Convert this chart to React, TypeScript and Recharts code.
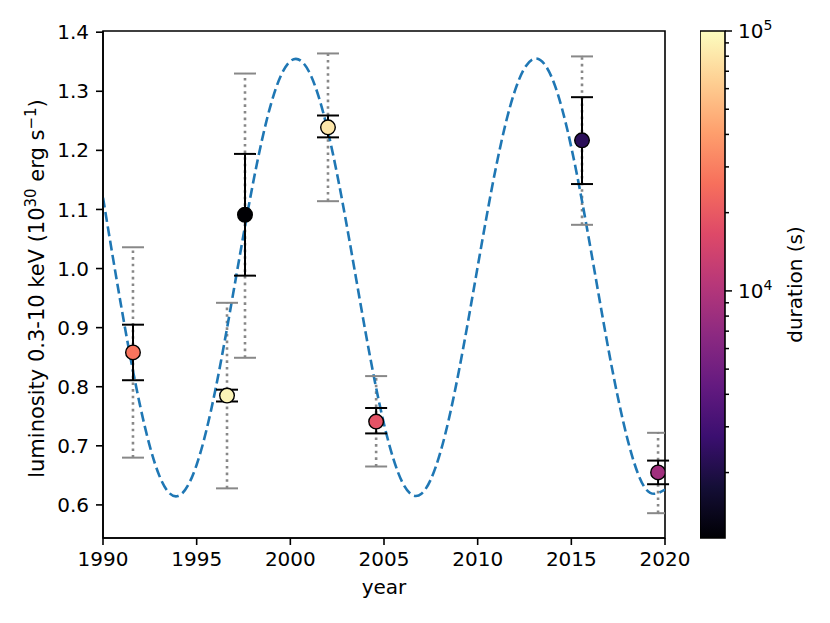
import {
  ComposedChart,
  Line,
  Scatter,
  XAxis,
  YAxis,
  ErrorBar,
  ReferenceArea,
} from "recharts";

// observations
const years = [1991.6, 1996.62, 1997.58, 2002.01, 2004.58, 2015.57, 2019.63];
const luminosity = [0.858, 0.785, 1.091, 1.239, 0.741, 1.217, 0.655];
const statLow = [0.811, 0.775, 0.988, 1.222, 0.721, 1.143, 0.635];
const statHigh = [0.905, 0.795, 1.194, 1.259, 0.764, 1.29, 0.675];
const sysLow = [0.68, 0.628, 0.849, 1.114, 0.665, 1.074, 0.586];
const sysHigh = [1.036, 0.942, 1.33, 1.364, 0.818, 1.359, 0.722];
const durations = [27000, 92000, 1100, 80000, 18700, 2300, 8300];

// dashed model curve
const modelYears = [
  1990, 1991, 1992, 1993, 1994, 1995, 1996, 1997, 1998, 1999, 2000, 2001,
  2002, 2003, 2004, 2005, 2006, 2007, 2008, 2009, 2010, 2011, 2012, 2013,
  2014, 2015, 2016, 2017, 2018, 2019, 2020,
];
const modelLum = [
  1.12, 0.931, 0.765, 0.65, 0.615, 0.668, 0.795, 0.967, 1.143, 1.282, 1.351,
  1.333, 1.233, 1.075, 0.895, 0.737, 0.637, 0.619, 0.688, 0.827, 1.003, 1.175,
  1.302, 1.355, 1.32, 1.205, 1.039, 0.86, 0.711, 0.626, 0.626,
];

const xTicks = [1990, 1995, 2000, 2005, 2010, 2015, 2020];
const yTicks = [0.6, 0.7, 0.8, 0.9, 1.0, 1.1, 1.2, 1.3, 1.4];
const cbarMin = 1120;
const cbarMax = 100000;
const cbarMajor = [10000, 100000];
const cbarTicks = [
  2000, 3000, 4000, 5000, 6000, 7000, 8000, 9000, 10000, 20000, 30000, 40000,
  50000, 60000, 70000, 80000, 90000, 100000,
];

const FONT = "DejaVu Sans";
const FS = 20;
const SUP = 14;

const MAGMA = [
  "#000004", "#140e36", "#3b0f70", "#641a80", "#8c2981", "#b73779",
  "#de4968", "#f7705c", "#fe9f6d", "#fecf92", "#fcfdbf",
];

function hexToRgb(h: string) {
  return [1, 3, 5].map((i) => parseInt(h.slice(i, i + 2), 16));
}

function magma(t: number) {
  const c = Math.min(1, Math.max(0, t)) * (MAGMA.length - 1);
  const i = Math.min(MAGMA.length - 2, Math.floor(c));
  const f = c - i;
  const a = hexToRgb(MAGMA[i]);
  const b = hexToRgb(MAGMA[i + 1]);
  const rgb = a.map((v, k) => Math.round(v + (b[k] - v) * f));
  return `rgb(${rgb.join(",")})`;
}

function durationColor(d: number) {
  const lo = Math.log10(cbarMin);
  const hi = Math.log10(cbarMax);
  return magma((Math.log10(d) - lo) / (hi - lo));
}

const rows = years.map((year, i) => ({
  year,
  lum: luminosity[i],
  statErr: [luminosity[i] - statLow[i], statHigh[i] - luminosity[i]],
  sysErr: [luminosity[i] - sysLow[i], sysHigh[i] - luminosity[i]],
  sysLo: sysLow[i],
  sysHi: sysHigh[i],
  color: durationColor(durations[i]),
}));

const modelRows = modelYears.map((year, i) => ({ year, model: modelLum[i] }));
const cbarEnds = [
  { x: 0, d: cbarMin },
  { x: 1, d: cbarMax },
];

const Point = (props: any) => {
  const { cx, cy, payload } = props;
  return (
    <circle cx={cx} cy={cy} r={7.3} fill={payload.color} stroke="#000" strokeWidth={1.4} />
  );
};

const GreyCap = (props: any) => {
  const { cx, cy } = props;
  return (
    <line x1={cx - 11} x2={cx + 11} y1={cy} y2={cy} stroke="#888" strokeWidth={2} />
  );
};

const Hidden = () => <g />;

const YLabel = (props: any) => {
  const vb = props.viewBox;
  const x = vb.x + 1;
  const y = vb.y + vb.height / 2 + 4;
  return (
    <text
      x={x}
      y={y}
      transform={`rotate(-90, ${x}, ${y})`}
      textAnchor="middle"
      fontSize={21}
      fontFamily={FONT}
      fill="#000"
    >
      luminosity 0.3-10 keV (10
      <tspan dy={-8} fontSize={15}>30</tspan>
      <tspan dy={8}> erg s</tspan>
      <tspan dy={-8} fontSize={15}>−1</tspan>
      <tspan dy={8}>)</tspan>
    </text>
  );
};

const XLabel = (props: any) => {
  const vb = props.viewBox;
  return (
    <text
      x={vb.x + vb.width / 2}
      y={vb.y + 56}
      textAnchor="middle"
      fontSize={FS}
      fontFamily={FONT}
      fill="#000"
    >
      year
    </text>
  );
};

const CbarLabel = (props: any) => {
  const vb = props.viewBox;
  const x = vb.x + 77;
  const y = vb.y + vb.height / 2;
  return (
    <text
      x={x}
      y={y}
      transform={`rotate(-90, ${x}, ${y})`}
      textAnchor="middle"
      fontSize={FS}
      fontFamily={FONT}
      fill="#000"
    >
      duration (s)
    </text>
  );
};

const CbarTick = (props: any) => {
  const { x, y, payload } = props;
  const major = cbarMajor.includes(payload.value);
  return (
    <g>
      <line x1={x} x2={x + (major ? 7 : 4)} y1={y} y2={y} stroke="#000" strokeWidth={1.5} />
      {major && (
        <text x={x + 13} y={y + 7.3} fontSize={FS} fontFamily={FONT} fill="#000">
          10
          <tspan dy={-8} fontSize={SUP}>
            {Math.round(Math.log10(payload.value))}
          </tspan>
        </text>
      )}
    </g>
  );
};

const axisStyle = { stroke: "#000", strokeWidth: 1.6 };
const tickStyle = { fill: "#000", fontSize: FS, fontFamily: FONT };

export default function App() {
  return (
    <div
      style={{
        position: "absolute",
        left: 0,
        top: 0,
        width: 830,
        height: 623,
        background: "#fff",
      }}
    >
      <ComposedChart
        width={830}
        height={623}
        margin={{ top: 31, right: 165, bottom: 55, left: 43 }}
      >
        <XAxis
          type="number"
          dataKey="year"
          domain={[1990, 2020]}
          ticks={xTicks}
          allowDataOverflow
          height={30}
          tickSize={7}
          tickMargin={7}
          tick={tickStyle}
          tickLine={axisStyle}
          axisLine={axisStyle}
          label={{ content: XLabel }}
        />
        <YAxis
          type="number"
          domain={[0.544, 1.402]}
          ticks={yTicks}
          allowDataOverflow
          width={60}
          tickSize={7}
          tickMargin={7}
          tickFormatter={(v: number) => v.toFixed(1)}
          tick={tickStyle}
          tickLine={axisStyle}
          axisLine={axisStyle}
          label={{ content: YLabel }}
        />
        <Scatter data={rows} dataKey="lum" shape={Hidden} isAnimationActive={false}>
          <ErrorBar
            dataKey="sysErr"
            direction="y"
            width={0}
            stroke="#888"
            strokeWidth={2.6}
            strokeDasharray="2.6 4"
          />
        </Scatter>
        <Scatter data={rows} dataKey="sysLo" shape={GreyCap} isAnimationActive={false} />
        <Scatter data={rows} dataKey="sysHi" shape={GreyCap} isAnimationActive={false} />
        <Line
          data={modelRows}
          dataKey="model"
          type="natural"
          stroke="#1f77b4"
          strokeWidth={2.6}
          strokeDasharray="10 4.5"
          dot={false}
          activeDot={false}
          isAnimationActive={false}
        />
        <Scatter data={rows} dataKey="lum" shape={Point} isAnimationActive={false}>
          <ErrorBar dataKey="statErr" direction="y" width={11} stroke="#000" strokeWidth={2} />
        </Scatter>
        <ReferenceArea
          x1={1990}
          x2={2020}
          y1={0.544}
          y2={1.402}
          fill="none"
          fillOpacity={0}
          stroke="#000"
          strokeWidth={1.6}
          ifOverflow="visible"
        />
      </ComposedChart>

      <div style={{ position: "absolute", left: 700, top: 0 }}>
        <ComposedChart
          width={130}
          height={623}
          data={cbarEnds}
          margin={{ top: 31, right: 0, bottom: 85, left: 0 }}
        >
          <defs>
            <linearGradient id="magmaGrad" x1="0" y1="1" x2="0" y2="0">
              {MAGMA.map((c, i) => (
                <stop key={c} offset={i / (MAGMA.length - 1)} stopColor={c} />
              ))}
            </linearGradient>
          </defs>
          <XAxis type="number" dataKey="x" domain={[0, 1]} hide />
          <YAxis
            orientation="right"
            type="number"
            dataKey="d"
            scale="log"
            domain={[cbarMin, cbarMax]}
            allowDataOverflow
            ticks={cbarTicks}
            interval={0}
            width={105}
            tickSize={0}
            tickMargin={0}
            tickLine={false}
            axisLine={false}
            tick={CbarTick}
            label={{ content: CbarLabel }}
          />
          <Scatter dataKey="d" shape={Hidden} isAnimationActive={false} />
          <ReferenceArea
            x1={0}
            x2={1}
            y1={cbarMin}
            y2={cbarMax}
            fill="url(#magmaGrad)"
            fillOpacity={1}
            stroke="#000"
            strokeWidth={1.6}
            ifOverflow="visible"
          />
        </ComposedChart>
      </div>
    </div>
  );
}
